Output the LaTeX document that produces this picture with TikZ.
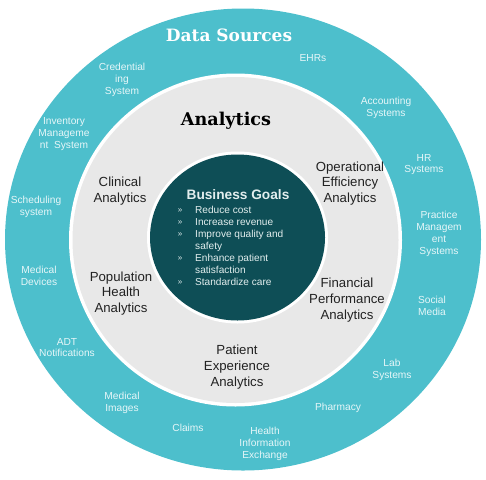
\documentclass[tikz,border=0pt]{standalone}
\usepackage{fontspec}
\setmainfont{Liberation Sans}
\newfontfamily\slabfont{DejaVu Serif}
\definecolor{outerteal}{HTML}{4DBFCC}
\definecolor{midgray}{HTML}{E8E8E8}
\definecolor{darkteal}{HTML}{0E4E56}
\definecolor{srctext}{HTML}{E6F6F8}
\definecolor{anatext}{HTML}{222222}
\definecolor{goaltext}{HTML}{E2EEEE}
\tikzset{
  src/.style={inner sep=0pt, align=center, text=srctext, font=\fontsize{10.2}{11.8}\selectfont},
  ana/.style={inner sep=0pt, align=center, text=anatext, font=\fontsize{13.2}{15.6}\selectfont},
  goal/.style={inner sep=0pt, anchor=base west, text=goaltext, font=\fontsize{10.1}{12}\selectfont},
  bul/.style={inner sep=0pt, anchor=base, text=goaltext, font=\fontsize{8}{9}\selectfont},
}
\begin{document}
\begin{tikzpicture}[x=1pt,y=-1pt]
\useasboundingbox (0,0) rectangle (486,479);
% rings
\fill[outerteal] (243,239.5) ellipse [x radius=238, y radius=231];
\fill[white] (235.5,240) circle [radius=166.5];
\fill[midgray] (235.5,240) circle [radius=163];
\fill[white] (237.5,237.5) ellipse [x radius=90.5, y radius=86];
\fill[darkteal] (237.5,237.5) ellipse [x radius=87.5, y radius=83];
% titles
\node[inner sep=0pt, text=white, font=\slabfont\bfseries\fontsize{17}{19}\selectfont] (ds) at (229,35) {Data Sources};
\node[inner sep=0pt, text=black, font=\slabfont\bfseries\fontsize{17.6}{19}\selectfont] (an) at (226,121) {Analytics};
% data sources
\node[src] (ehr) at (313,58) {EHRs};
\node[src] (cred) at (122,80) {Credential\\ing\\System};
\node[src] (acc) at (386,107.5) {Accounting\\Systems};
\node[src] (inv) at (64,134) {Inventory\\Manageme\\nt\ \ System};
\node[src] (hr) at (424,164.5) {HR\\Systems};
\node[src] (sch) at (36,206.5) {Scheduling\\system};
\node[src] (prac) at (439,234) {Practice\\Managem\\ent\\Systems};
\node[src] (dev) at (39,276) {Medical\\Devices};
\node[src] (soc) at (432,306) {Social\\Media};
\node[src] (adt) at (67,347.5) {ADT\\Notifications};
\node[src] (lab) at (392,369.5) {Lab\\Systems};
\node[src] (img) at (122,402.5) {Medical\\Images};
\node[src] (pha) at (338,408) {Pharmacy};
\node[src] (clm) at (188,428) {Claims};
\node[src] (hie) at (265,444) {Health\\Information\\Exchange};
% analytics
\node[ana] (clin) at (120,191) {Clinical\\Analytics};
\node[ana] (oper) at (350,183.5) {Operational\\Efficiency\\Analytics};
\node[ana] (pop) at (121,293.5) {Population\\Health\\Analytics};
\node[ana] (fin) at (347,300) {Financial\\Performance\\Analytics};
\node[ana] (pat) at (237,367) {Patient\\Experience\\Analytics};
% business goals
\node[inner sep=0pt, text=goaltext, font=\bfseries\fontsize{13.7}{15}\selectfont] (bg) at (238,195) {Business Goals};
\node[goal] (g1) at (195,213) {Reduce cost};
\node[goal] (g2) at (195,225) {Increase revenue};
\node[goal] (g3) at (195,237) {Improve quality and};
\node[goal] (g4) at (195,249) {safety};
\node[goal] (g5) at (195,261) {Enhance patient};
\node[goal] (g6) at (195,273) {satisfaction};
\node[goal] (g7) at (195,285) {Standardize care};
\node[bul] (b1) at (180,212) {»};
\node[bul] (b2) at (180,224) {»};
\node[bul] (b3) at (180,236) {»};
\node[bul] (b5) at (180,260) {»};
\node[bul] (b7) at (180,284) {»};
\end{tikzpicture}
\end{document}
